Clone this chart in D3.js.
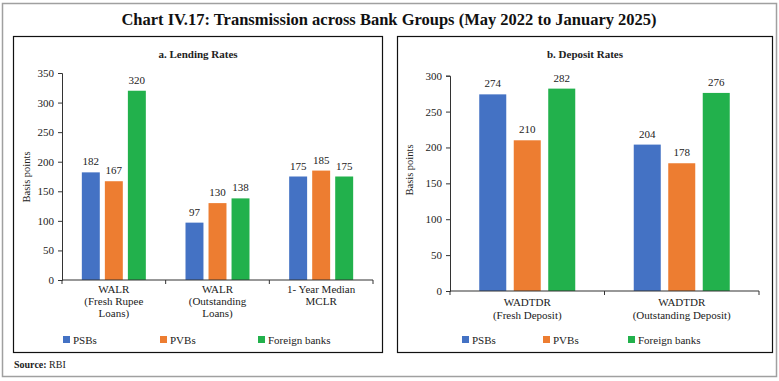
<!DOCTYPE html>
<html><head><meta charset="utf-8">
<script src="https://cdn.jsdelivr.net/npm/d3@7"></script>
<style>
body{margin:0;background:#fff;}
text{font-family:"Liberation Serif","DejaVu Serif",serif !important;fill:#222;}
</style></head>
<body><svg id="c" width="779" height="381"></svg>
<script>
const series = ["PSBs","PVBs","Foreign banks"];
const colors = ["#4472C4","#ED7D31","#22B14C"];
const lendCats = ["WALR (Fresh Rupee Loans)","WALR (Outstanding Loans)","1- Year Median MCLR"];
const lendLabels = [["WALR","(Fresh Rupee","Loans)"],["WALR","(Outstanding","Loans)"],["1- Year Median","MCLR"]];
const lendPSB = [182,97,175];
const lendPVB = [167,130,185];
const lendFB  = [320,138,175];
const lendTicks = [0,50,100,150,200,250,300,350];
const depCats = ["WADTDR (Fresh Deposit)","WADTDR (Outstanding Deposit)"];
const depLabels = [["WADTDR","(Fresh Deposit)"],["WADTDR","(Outstanding Deposit)"]];
const depPSB = [274,204];
const depPVB = [210,178];
const depFB  = [282,276];
const depTicks = [0,50,100,150,200,250,300];

const svg = d3.select("#c");
svg.append("rect").attr("x",2.5).attr("y",3.5).attr("width",774).attr("height",373)
  .attr("fill","none").attr("stroke","#a0a0a0").attr("stroke-width",1.5);
svg.append("text").attr("x",389).attr("y",25).attr("text-anchor","middle")
  .style("font-size","16.5px").style("font-weight","bold").style("fill","#111")
  .text("Chart IV.17: Transmission across Bank Groups (May 2022 to January 2025)");
svg.append("text").attr("x",14).attr("y",368).style("font-size","10px")
  .html('<tspan style="font-weight:bold">Source:</tspan> RBI');

function panel(cfg){
  const g = svg.append("g");
  g.append("rect").attr("x",cfg.box[0]).attr("y",cfg.box[1]).attr("width",cfg.box[2]).attr("height",cfg.box[3])
    .attr("fill","none").attr("stroke","#111").attr("stroke-width",1.2);
  g.append("text").attr("x",cfg.box[0]+cfg.box[2]/2).attr("y",58).attr("text-anchor","middle")
    .style("font-size","11px").style("font-weight","bold").text(cfg.title);
  const y = d3.scaleLinear().domain([0,cfg.ymax]).range(cfg.yr);
  const x0 = d3.scaleBand().domain(cfg.cats).range(cfg.xr).padding(0);
  const x1 = d3.scaleBand().domain(series).range([0,cfg.gw]).paddingInner(cfg.pin);
  const off = (x0.bandwidth()-cfg.gw)/2;
  const data = cfg.cats.map((c,i)=>({cat:c, vals:[cfg.v[0][i],cfg.v[1][i],cfg.v[2][i]]}));
  const gr = g.selectAll("g.grp").data(data).join("g").attr("transform",d=>`translate(${x0(d.cat)+off},0)`);
  gr.selectAll("rect").data(d=>d.vals.map((v,j)=>({s:series[j],v,j}))).join("rect")
    .attr("x",d=>x1(d.s)).attr("width",x1.bandwidth())
    .attr("y",d=>y(d.v)).attr("height",d=>y(0)-y(d.v)).attr("fill",d=>colors[d.j]);
  gr.selectAll("text.v").data(d=>d.vals.map((v,j)=>({s:series[j],v,j}))).join("text")
    .attr("class","v").attr("x",d=>x1(d.s)+x1.bandwidth()/2).attr("y",d=>y(d.v)-7)
    .attr("text-anchor","middle").style("font-size","11px").text(d=>d.v);
  const ya = g.append("g").attr("transform",`translate(${cfg.xr[0]},0)`)
    .call(d3.axisLeft(y).tickValues(cfg.ticks).tickSize(4).tickPadding(4));
  ya.select(".domain").attr("stroke","#333");
  ya.selectAll(".tick line").attr("stroke","#333");
  ya.selectAll(".tick text").style("font-size","11px").attr("fill","#222");
  const xa = g.append("g").attr("transform",`translate(0,${cfg.yr[0]})`);
  xa.append("line").attr("x1",cfg.xr[0]).attr("x2",cfg.xr[1]).attr("stroke","#333").attr("stroke-width",1.2);
  const bounds = cfg.cats.map(c=>x0(c)).concat([cfg.xr[1]]);
  xa.selectAll("line.t").data(bounds).join("line").attr("class","t")
    .attr("x1",d=>d).attr("x2",d=>d).attr("y1",0).attr("y2",4).attr("stroke","#333");
  cfg.cats.forEach((c,i)=>{
    const t = xa.append("text").attr("text-anchor","middle").style("font-size","11px");
    cfg.labels[i].forEach((l,k)=>t.append("tspan").attr("x",x0(c)+x0.bandwidth()/2).attr("y",cfg.ly+k*cfg.lh).text(l));
  });
  g.append("text").attr("transform",`translate(${cfg.ylx},${cfg.yly}) rotate(-90)`).attr("text-anchor","middle")
    .style("font-size","10.5px").text("Basis points");
  series.forEach((s,j)=>{
    g.append("rect").attr("x",cfg.leg[j]).attr("y",336).attr("width",7).attr("height",7).attr("fill",colors[j]);
    g.append("text").attr("x",cfg.leg[j]+10).attr("y",343.5).style("font-size","11px").text(s);
  });
}

panel({box:[13.5,36.5,369,316], title:"a. Lending Rates", cats:lendCats, labels:lendLabels,
  v:[lendPSB,lendPVB,lendFB], ymax:350, yr:[280,73], xr:[62,373], gw:64, pin:0.22, ticks:lendTicks,
  ly:13, lh:12, ylx:30, yly:177, leg:[63,160,258]});
panel({box:[397.5,36.5,375,316], title:"b. Deposit Rates", cats:depCats, labels:depLabels,
  v:[depPSB,depPVB,depFB], ymax:300, yr:[291,75.7], xr:[450,759], gw:96, pin:0.217, ticks:depTicks,
  ly:15, lh:13, ylx:413, yly:170, leg:[462,543,628]});
</script></body></html>
